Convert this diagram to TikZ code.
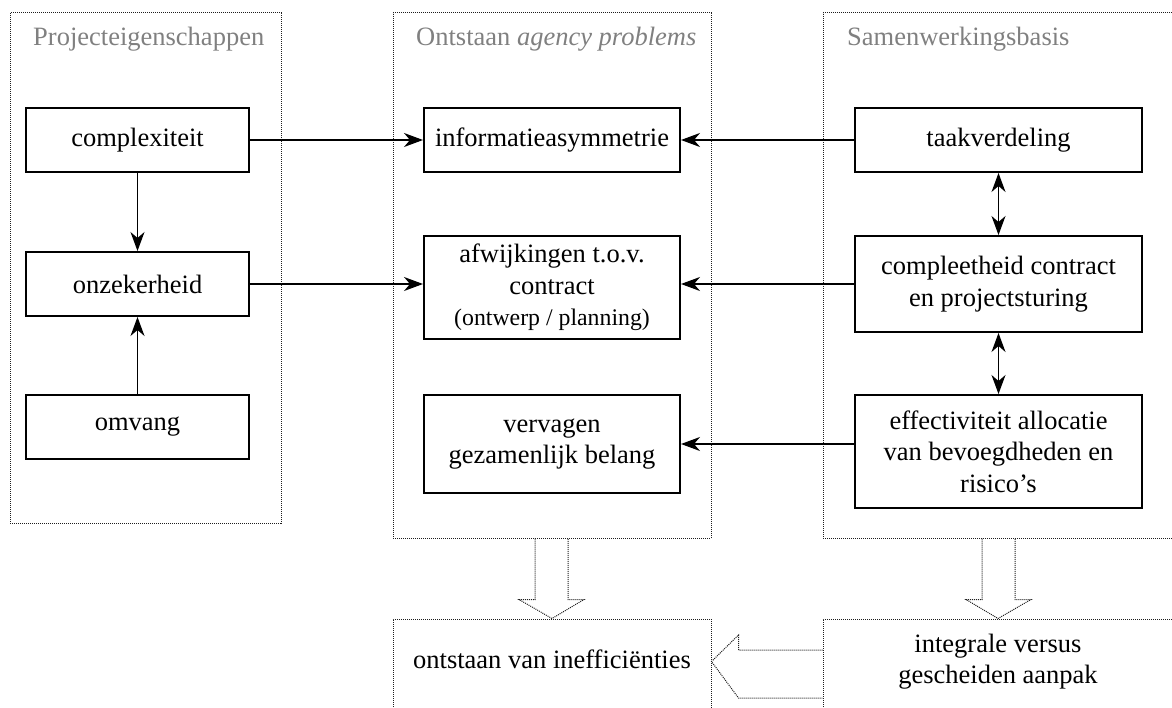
\documentclass[tikz,border=0pt]{standalone}
\usepackage{fontspec}
\setmainfont{Liberation Serif}
\usetikzlibrary{arrows.meta,calc}
\definecolor{titlegray}{RGB}{128,128,128}
\definecolor{dotgray}{RGB}{30,30,30}
\newcommand\diagfont{\fontsize{26.5}{31.5}\selectfont}
\newcommand\diagsmall{\fontsize{23.8}{31.5}\selectfont}
\begin{document}
\begin{tikzpicture}[x=1pt,y=-1pt,
  panel/.style={draw=dotgray, line width=1pt, dash pattern=on 1pt off 1pt, inner sep=0pt},
  blockarrow/.style={draw=dotgray, line width=1pt, dash pattern=on 1pt off 1pt},
  paneltitle/.style={anchor=base west, inner sep=0pt, text=titlegray, font=\diagfont},
  box/.style={draw, line width=2pt, inner sep=0pt, align=center, font=\diagfont},
  label/.style={inner sep=0pt, align=center, font=\diagfont},
  conn/.style={line width=1.3pt, -{Stealth[length=19pt, width=14pt, inset=6pt]}},
  dconn/.style={line width=1.3pt, {Stealth[length=19pt, width=14pt, inset=6pt]}-{Stealth[length=19pt, width=14pt, inset=6pt]}}
]
\useasboundingbox (0,0) rectangle (1172,708);
\clip (0,0) rectangle (1172,708);

% dotted group panels
\node[panel, minimum width=271, minimum height=510] (pleft)  at (145.5,268)   {};
\node[panel, minimum width=318, minimum height=525] (pmid)   at (552,275.5)   {};
\node[panel, minimum width=350, minimum height=525] (pright) at (998,275.5)   {};
\node[panel, minimum width=318, minimum height=97]  (bmid)   at (552,667.5)   {};
\node[panel, minimum width=350, minimum height=97]  (bright) at (998,667.5)   {};

% panel titles
\node[paneltitle] (tleft)  at (33,46)  {Projecteigenschappen};
\node[paneltitle] (tmid)   at (416,46) {Ontstaan \textit{agency problems}};
\node[paneltitle] (tright) at (847,46) {Samenwerkingsbasis};

% left column
\node[box, minimum width=223, minimum height=64] (cx)  at (137.5,140) {complexiteit};
\node[box, minimum width=223, minimum height=64] (onz) at (137.5,284) {onzekerheid};
\node[box, minimum width=223, minimum height=64] (omv) at (137.5,427) {omvang};

% middle column
\node[box, minimum width=256, minimum height=103] (afw)  at (552,287.5) {afwijkingen t.o.v.\\contract\\{\diagsmall (ontwerp / planning)}};
\node[box, minimum width=256, minimum height=64]  (info) at (552,140)   {informatieasymmetrie};
\node[box, minimum width=256, minimum height=98]  (verv) at (552,444)   {vervagen\\gezamenlijk belang};

% right column
\node[box, minimum width=287, minimum height=64]  (taak) at (998.5,140)   {taakverdeling};
\node[box, minimum width=287, minimum height=96]  (comp) at (998.5,284)   {compleetheid contract\\en projectsturing};
\node[box, minimum width=287, minimum height=113] (eff)  at (998.5,451.5) {effectiviteit allocatie\\van bevoegdheden en\\risico's};

% bottom texts
\node[label] (ineff) at (552,668) [anchor=base] {ontstaan van inefficiënties};
\node[label] (aanpak) at (998,661.5) {integrale versus\\gescheiden aanpak};

% connectors
\draw[conn] (cx.east) -- (info.west);
\draw[conn] (taak.west) -- (info.east);
\draw[conn] (onz.east) -- (onz.east -| afw.west);
\draw[conn] (comp.west) -- (comp.west -| afw.east);
\draw[conn] (eff.west |- verv.east) -- (verv.east);
\draw[conn] (cx.south) -- (onz.north);
\draw[conn] (omv.north) -- (onz.south);
\draw[dconn] (taak.south) -- (comp.north);
\draw[dconn] (comp.south) -- (eff.north);

% hollow block arrows between panels
\draw[blockarrow] ($(pmid.south)+(-17,0)$) -- ++(0,61) -- ++(-16,0) -- (bmid.north)
  -- ($(pmid.south)+(32,61)$) -- ++(-16,0) -- ($(pmid.south)+(16,0)$);
\draw[blockarrow] ($(pright.south)+(-16,0)$) -- ++(0,61) -- ++(-16,0) -- (bright.north)
  -- ($(pright.south)+(33,61)$) -- ++(-16,0) -- ($(pright.south)+(17,0)$);
\draw[blockarrow] ($(bright.west)+(0,-17.5)$) -- ++(-84,0) -- ++(0,-15) -- (bmid.east |- aanpak.center)
  -- ($(bright.west)+(-84,30.5)$) -- ++(84,0);
\end{tikzpicture}
\end{document}
